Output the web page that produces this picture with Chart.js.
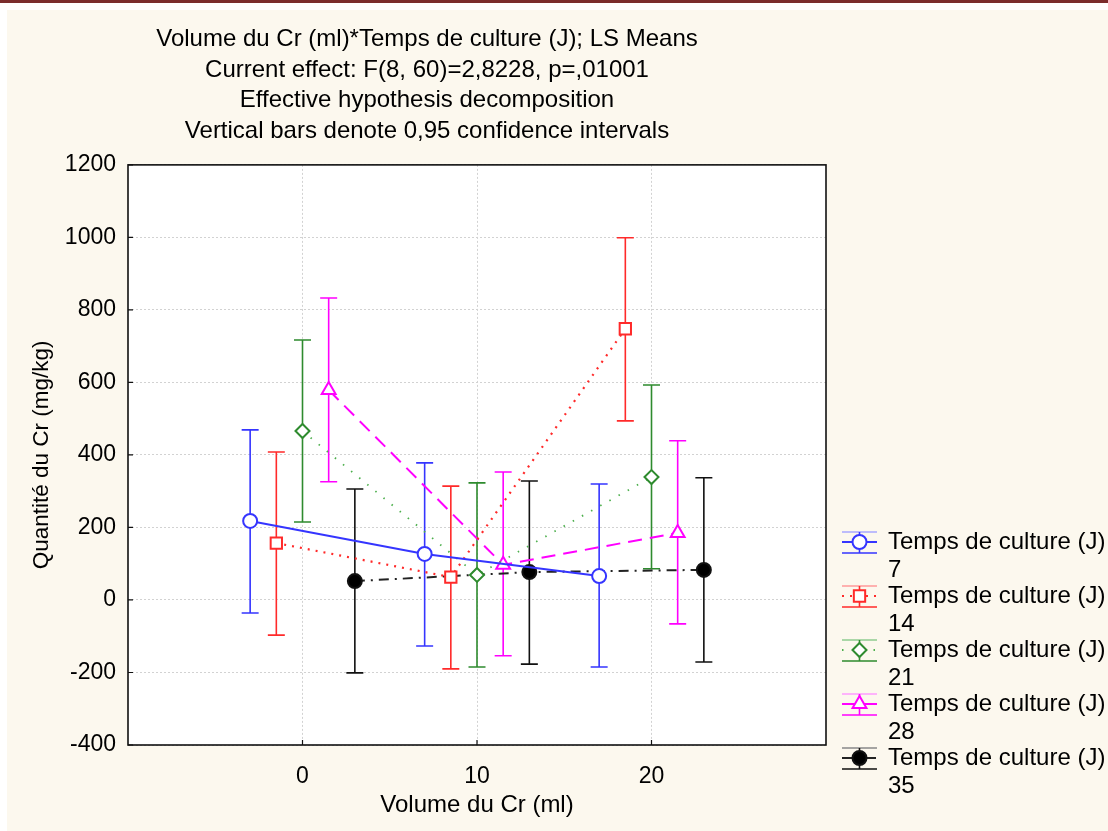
<!DOCTYPE html>
<html lang="fr">
<head>
<meta charset="UTF-8">
<title>Volume du Cr * Temps de culture - LS Means</title>
<script src="https://cdn.jsdelivr.net/npm/chart.js"></script>
<style>
  html, body { margin: 0; padding: 0; background: #fff; }
  #wrap { width: 1108px; height: 831px; }
</style>
</head>
<body>
<div id="wrap"><canvas id="chart" width="1108" height="831"></canvas></div>
<script>
// data
const volumes = [0, 10, 20];
const xTicks = [0, 10, 20];
const days = ['7', '14', '21', '28', '35'];
const means = [
  [218, 127, 66],
  [157, 63, 748],
  [466, 69, 339],
  [579, 97, 185],
  [52, 77, 83]
];
const lower = [
  [-36, -127, -185],
  [-97, -190, 494],
  [215, -185, 86],
  [326, -154, -66],
  [-201, -177, -171]
];
const upper = [
  [469, 378, 320],
  [408, 314, 999],
  [717, 323, 593],
  [833, 353, 439],
  [306, 328, 337]
];

// dodge of each group so the bars do not overlap
const dodge = [-3, -1.5, 0, 1.5, 3];

const FONT = '"Liberation Sans", Arial, sans-serif';

const looks = [
  { line: '#3535ff', bar: '#3535ff', light: '#a8a8ff', dash: [], lw: 2, pt: 'circle', r: 7, fill: '#fff' },
  { line: '#ff2a2a', bar: '#ff2a2a', light: '#ff9a9a', dash: [2, 6], lw: 2.2, pt: 'rect', r: 8, fill: '#fff' },
  { line: '#4caf4c', bar: '#2e8b2e', light: '#8fcc8f', dash: [1.5, 9], lw: 1.8, pt: 'rectRot', r: 7, fill: '#fff' },
  { line: '#ff00ff', bar: '#ff00ff', light: '#ff9cff', dash: [14, 8], lw: 2, pt: 'triangle', r: 8, fill: '#fff' },
  { line: '#222', bar: '#111', light: '#888', dash: [10, 6, 2, 6], lw: 2, pt: 'circle', r: 7, fill: '#000' }
];

const backdrop = {
  id: 'backdrop',
  beforeDraw(chart) {
    const { ctx, width, height, chartArea: a } = chart;
    ctx.save();
    ctx.fillStyle = '#fff';
    ctx.fillRect(0, 0, width, height);
    ctx.fillStyle = '#fcf8ee';
    ctx.fillRect(7, 10, width - 7, height - 10);
    ctx.fillStyle = '#7a2c2c';
    ctx.fillRect(0, 0, width, 3);
    ctx.fillStyle = '#fff';
    ctx.fillRect(a.left, a.top, a.right - a.left, a.bottom - a.top);
    ctx.restore();
  }
};

const errorBars = {
  id: 'errorBars',
  beforeDatasetsDraw(chart) {
    const { ctx, scales: { x, y } } = chart;
    ctx.save();
    ctx.lineWidth = 1.6;
    days.forEach((d, i) => {
      ctx.strokeStyle = looks[i].bar;
      volumes.forEach((v, j) => {
        const px = x.getPixelForValue(v + dodge[i]);
        const t = y.getPixelForValue(upper[i][j]);
        const b = y.getPixelForValue(lower[i][j]);
        ctx.beginPath();
        ctx.moveTo(px, t); ctx.lineTo(px, b);
        ctx.moveTo(px - 8.5, t); ctx.lineTo(px + 8.5, t);
        ctx.moveTo(px - 8.5, b); ctx.lineTo(px + 8.5, b);
        ctx.stroke();
      });
    });
    ctx.restore();
  }
};

const frameAndLegend = {
  id: 'frameAndLegend',
  afterDraw(chart) {
    const { ctx, chartArea: a, scales: { x, y } } = chart;
    ctx.save();
    ctx.strokeStyle = '#111';
    ctx.lineWidth = 1.6;
    ctx.strokeRect(a.left, a.top, a.right - a.left, a.bottom - a.top);
    // short inward tick marks
    ctx.lineWidth = 1.2;
    ctx.beginPath();
    y.ticks.forEach(t => {
      const py = y.getPixelForValue(t.value);
      ctx.moveTo(a.left, py); ctx.lineTo(a.left + 5, py);
    });
    x.ticks.forEach(t => {
      const px = x.getPixelForValue(t.value);
      ctx.moveTo(px, a.bottom); ctx.lineTo(px, a.bottom - 5);
    });
    ctx.stroke();

    // legend, right of the plot
    const lx = a.right + 16, iw = 35;
    const tx = lx + 46;
    ctx.font = '24px ' + FONT;
    ctx.textBaseline = 'middle';
    days.forEach((d, i) => {
      const L = looks[i];
      const cy = a.bottom - 203 + i * 54;
      const cx = lx + iw / 2;
      ctx.lineWidth = 1.6;
      ctx.setLineDash([]);
      ctx.strokeStyle = L.light;
      ctx.beginPath(); ctx.moveTo(lx, cy - 10); ctx.lineTo(lx + iw, cy - 10); ctx.stroke();
      ctx.strokeStyle = L.bar;
      ctx.beginPath();
      ctx.moveTo(lx, cy + 11); ctx.lineTo(lx + iw, cy + 11);
      ctx.moveTo(cx, cy - 10); ctx.lineTo(cx, cy + 11);
      ctx.stroke();
      ctx.strokeStyle = L.line;
      ctx.lineWidth = L.lw;
      ctx.setLineDash(L.dash);
      ctx.beginPath(); ctx.moveTo(lx, cy); ctx.lineTo(lx + iw, cy); ctx.stroke();
      ctx.setLineDash([]);
      ctx.fillStyle = L.fill;
      ctx.strokeStyle = L.bar;
      ctx.lineWidth = 2;
      Chart.helpers.drawPoint(ctx, { pointStyle: L.pt, radius: L.r, rotation: 0, borderWidth: 2 }, cx, cy);
      ctx.fillStyle = '#000';
      ctx.fillText('Temps de culture (J)', tx, cy);
      ctx.fillText(d, tx, cy + 28);
    });
    ctx.restore();
  }
};

new Chart(document.getElementById('chart'), {
  type: 'line',
  data: {
    datasets: days.map((d, i) => ({
      label: 'Temps de culture (J) ' + d,
      data: volumes.map((v, j) => ({ x: v + dodge[i], y: means[i][j] })),
      borderColor: looks[i].line,
      borderWidth: looks[i].lw,
      borderDash: looks[i].dash,
      tension: 0,
      fill: false,
      pointStyle: looks[i].pt,
      pointRadius: looks[i].r,
      pointBorderWidth: 2,
      pointBorderColor: looks[i].bar,
      pointBackgroundColor: looks[i].fill
    }))
  },
  options: {
    responsive: false,
    animation: false,
    layout: { padding: { left: 28, right: 282, top: 0, bottom: 0 } },
    plugins: {
      legend: { display: false },
      tooltip: { enabled: false },
      title: {
        display: true,
        text: [
          'Volume du Cr (ml)*Temps de culture (J); LS Means',
          'Current effect: F(8, 60)=2,8228, p=,01001',
          'Effective hypothesis decomposition',
          'Vertical bars denote 0,95 confidence intervals'
        ],
        color: '#000',
        font: { family: FONT, size: 24, weight: 'normal', lineHeight: 1.28 },
        padding: { top: 24, bottom: 18 }
      }
    },
    scales: {
      x: {
        type: 'linear',
        min: -10,
        max: 30,
        afterBuildTicks: s => { s.ticks = xTicks.map(v => ({ value: v })); },
        afterFit: s => { s.height = 86; },
        grid: { color: '#d2d2d2', drawTicks: false },
        border: { display: false, dash: [2, 2] },
        ticks: { color: '#000', font: { family: FONT, size: 23 }, padding: 18 },
        title: { display: true, text: 'Volume du Cr (ml)', color: '#000', font: { family: FONT, size: 24 }, padding: { top: 0, bottom: 11 } }
      },
      y: {
        min: -400,
        max: 1200,
        ticks: { stepSize: 200, color: '#000', font: { family: FONT, size: 23 }, padding: 12, callback: v => String(v) },
        afterFit: s => { s.width = 100; },
        grid: { color: '#d2d2d2', drawTicks: false },
        border: { display: false, dash: [2, 2] },
        title: { display: true, text: 'Quantité du Cr (mg/kg)', color: '#000', font: { family: FONT, size: 22.5 }, padding: { top: 0, bottom: 0 } }
      }
    }
  },
  plugins: [backdrop, errorBars, frameAndLegend]
});
</script>
</body>
</html>
